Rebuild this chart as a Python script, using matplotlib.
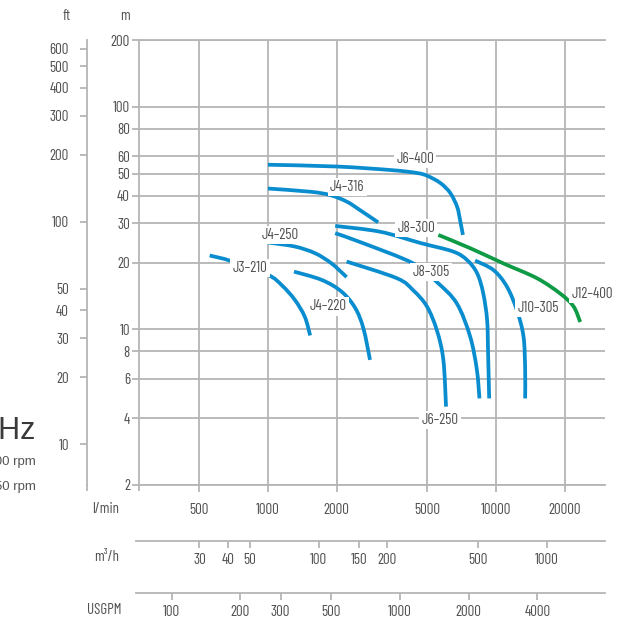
import numpy as np
import matplotlib
matplotlib.use("Agg")
import matplotlib.pyplot as plt
from matplotlib.ticker import FixedLocator, FixedFormatter, NullLocator
from matplotlib.path import Path
from matplotlib.patches import PathPatch

plt.rcParams['font.family'] = ['Barlow Condensed', 'DejaVu Sans']
plt.rcParams['font.weight'] = 'normal'

# Pump performance curves: flow (l/min) and head (m)
j6_400_q = [1000, 2000, 3500, 4500, 5000, 5700, 6300, 6750, 6950, 7150]
j6_400_h = [55, 54, 52, 50.5, 49, 45.5, 41, 35.5, 31, 26.6]

j4_316_q = [1000, 1530, 1870, 2220, 2530, 3040]
j4_316_h = [43, 41.6, 40.2, 37.5, 34.4, 30.3]

j8_300_q = [1970, 3100, 4640, 6480, 7460, 8250, 8770, 9130, 9220, 9320]
j8_300_h = [29.2, 27.5, 24.5, 22.4, 20.5, 17.9, 14.6, 11.0, 7.8, 4.9]

j8_305_q = [1970, 2620, 4340, 5510, 6720, 7690, 8230, 8450]
j8_305_h = [27.1, 24.4, 19.8, 16.3, 13.1, 9.3, 6.6, 4.9]

j4_250_q = [1000, 1310, 1610, 1900, 2210]
j4_250_h = [24.6, 23.6, 22.0, 19.8, 17.2]

j3_210_q = [555, 690, 1000, 1150, 1310, 1450, 1530]
j3_210_h = [21.5, 20.3, 17.6, 15.8, 13.6, 11.4, 9.4]

j4_220_q = [1300, 1720, 2100, 2410, 2620, 2800]
j4_220_h = [18.2, 16.7, 14.8, 12.5, 10.1, 7.3]

j6_250_q = [2210, 3670, 4330, 4970, 5500, 5870, 6030]
j6_250_h = [20.2, 17.0, 15.0, 12.7, 9.9, 7.3, 4.5]

j10_305_q = [8090, 9730, 11140, 12330, 13180, 13400, 13400]
j10_305_h = [20.4, 18.5, 15.6, 12.2, 9.3, 6.6, 4.9]

j12_400_q = [5580, 7690, 10770, 15090, 19090, 21830, 23360]
j12_400_h = [26.6, 23.2, 19.8, 17.0, 14.5, 12.7, 10.8]

# Axis ticks
head_m_ticks = [2, 4, 6, 8, 10, 20, 30, 40, 50, 60, 80, 100, 200]
head_ft_ticks = [10, 20, 30, 40, 50, 100, 200, 300, 400, 500, 600]
flow_lmin_ticks = [500, 1000, 2000, 5000, 10000, 20000]
flow_m3h_ticks = [30, 40, 50, 100, 150, 200, 500, 1000]
flow_gpm_ticks = [100, 200, 300, 500, 1000, 2000, 4000]

FT_PER_M = 1 / 0.3048
LMIN_PER_M3H = 1000 / 60
LMIN_PER_GPM = 3.78541

BLUE = '#0a8dcf'
GREEN = '#0f9a45'
GRID = '#b5b5b5'
TXT = '#505050'
GLW = 1.3
FS = 10.8

W, H = 644, 633
fig = plt.figure(figsize=(W / 100, H / 100), dpi=100)


def fx(px):
    return px / W


def fy(py):
    return 1 - py / H


def smooth_curve(q, h):
    """Cubic Bezier path through the points, built in log-log space."""
    pts = np.column_stack([np.log10(q), np.log10(h)])
    n = len(pts)
    verts = [pts[0]]
    codes = [Path.MOVETO]
    for i in range(n - 1):
        p0 = pts[i - 1] if i > 0 else pts[i]
        p1, p2 = pts[i], pts[i + 1]
        p3 = pts[i + 2] if i + 2 < n else pts[i + 1]
        verts += [p1 + (p2 - p0) / 6, p2 - (p3 - p1) / 6, p2]
        codes += [Path.CURVE4] * 3
    return Path(10 ** np.array(verts), codes)


XMIN, XMAX = 272, 30000
YMIN, YMAX = 2, 200
left, right, top, bottom = 139, 605, 40, 485

ax = fig.add_axes([fx(left), fy(bottom), (right - left) / W, (bottom - top) / H])
ax.set_xscale('log')
ax.set_yscale('log')
ax.set_xlim(XMIN, XMAX)
ax.set_ylim(YMIN, YMAX)

ax.yaxis.set_major_locator(FixedLocator(head_m_ticks))
ax.yaxis.set_major_formatter(FixedFormatter([str(v) for v in head_m_ticks]))
ax.yaxis.set_minor_locator(NullLocator())
ax.xaxis.set_major_locator(FixedLocator(flow_lmin_ticks))
ax.xaxis.set_major_formatter(FixedFormatter([str(v) for v in flow_lmin_ticks]))
ax.xaxis.set_minor_locator(NullLocator())

ax.grid(True, which='major', color=GRID, lw=GLW, zorder=1)
ax.set_axisbelow(True)
ax.tick_params(axis='y', direction='out', length=5, width=GLW, color=GRID,
               labelsize=FS, labelcolor=TXT, pad=1.5)
ax.tick_params(axis='x', direction='out', length=5, width=GLW, color=GRID,
               labelsize=FS, labelcolor=TXT, pad=8)
ax.spines['right'].set_visible(False)
for s in ['left', 'top', 'bottom']:
    ax.spines[s].set_color(GRID)
    ax.spines[s].set_linewidth(GLW)
ax.plot([0, 0], [0, -5 / (bottom - top)], transform=ax.transAxes,
        color=GRID, lw=GLW, clip_on=False)

curves = [
    (j6_400_q, j6_400_h, BLUE),
    (j4_316_q, j4_316_h, BLUE),
    (j8_300_q, j8_300_h, BLUE),
    (j8_305_q, j8_305_h, BLUE),
    (j4_250_q, j4_250_h, BLUE),
    (j3_210_q, j3_210_h, BLUE),
    (j4_220_q, j4_220_h, BLUE),
    (j6_250_q, j6_250_h, BLUE),
    (j10_305_q, j10_305_h, BLUE),
    (j12_400_q, j12_400_h, GREEN),
]
for q, h, c in curves:
    ax.add_patch(PathPatch(smooth_curve(q, h), fill=False, edgecolor=c, lw=2.7,
                           capstyle='butt', zorder=3))

# Curve labels: (text, flow, head)
labels = [
    ('J6–400', 4410, 58.4),
    ('J4–316', 2220, 43.6),
    ('J8–300', 4460, 28.6),
    ('J4–250', 1130, 26.6),
    ('J3–210', 834, 18.9),
    ('J4–220', 1830, 12.7),
    ('J8–305', 5190, 18.1),
    ('J10–305', 15290, 12.5),
    ('J12–400', 26370, 14.4),
    ('J6–250', 5680, 3.92),
]
for t, q, h in labels:
    ax.text(q, h, t, ha='center', va='center', fontsize=FS, color=TXT, zorder=5,
            bbox=dict(boxstyle='square,pad=0.15', fc='white', ec='none'))

# Secondary head scale in feet
axf = fig.add_axes([fx(87), fy(bottom), 1e-4, (bottom - top) / H])
axf.set_yscale('log')
axf.set_ylim(YMIN * FT_PER_M, YMAX * FT_PER_M)
axf.yaxis.set_major_locator(FixedLocator(head_ft_ticks))
axf.yaxis.set_major_formatter(FixedFormatter([str(v) for v in head_ft_ticks]))
axf.yaxis.set_minor_locator(NullLocator())
axf.set_xticks([])
axf.patch.set_visible(False)
for s in ['right', 'top', 'bottom']:
    axf.spines[s].set_visible(False)
axf.spines['left'].set_color(GRID)
axf.spines['left'].set_linewidth(GLW)
axf.tick_params(axis='y', direction='out', length=5, width=GLW, color=GRID,
                labelsize=FS, labelcolor=TXT, pad=8)
axf.plot([0, 0], [0, -5 / (bottom - top)], transform=axf.transAxes,
         color=GRID, lw=GLW, clip_on=False)


def flow_scale(ypx, ticks, factor):
    a = fig.add_axes([fx(136), fy(ypx), (right - 136) / W, 1e-4])
    a.set_xscale('log')
    a.set_xlim(10 ** (3 - (268 - 136) / 228), XMAX)
    a.xaxis.set_major_locator(FixedLocator([v * factor for v in ticks]))
    a.xaxis.set_major_formatter(FixedFormatter([str(v) for v in ticks]))
    a.xaxis.set_minor_locator(NullLocator())
    a.set_yticks([])
    a.patch.set_visible(False)
    for s in ['left', 'right', 'top']:
        a.spines[s].set_visible(False)
    a.spines['bottom'].set_color(GRID)
    a.spines['bottom'].set_linewidth(GLW)
    a.tick_params(axis='x', direction='out', length=5, width=GLW, color=GRID,
                  labelsize=FS, labelcolor=TXT, pad=4)
    return a


flow_scale(541, flow_m3h_ticks, LMIN_PER_M3H)
flow_scale(593, flow_gpm_ticks, LMIN_PER_GPM)

# Scale names
fig.text(fx(67), fy(16), 'ft', ha='center', va='center', fontsize=FS, color=TXT)
fig.text(fx(125), fy(16), 'm', ha='center', va='center', fontsize=FS, color=TXT)
fig.text(fx(119), fy(509), 'l/min', ha='right', va='center', fontsize=FS, color=TXT)
fig.text(fx(119), fy(557), 'm³/h', ha='right', va='center', fontsize=FS, color=TXT)
fig.text(fx(121), fy(610), 'USGPM', ha='right', va='center', fontsize=FS, color=TXT)

# Speed legend
fig.text(fx(36), fy(431), '60Hz', ha='right', va='center', fontsize=22,
         color='#3a3a3a', family='Liberation Sans', weight='normal')
fig.text(fx(36), fy(462), '3500 rpm', ha='right', va='center', fontsize=9.5,
         color='#555555', family='Liberation Sans', weight='normal')
fig.text(fx(36), fy(487), '1750 rpm', ha='right', va='center', fontsize=9.5,
         color='#555555', family='Liberation Sans', weight='normal')

fig.savefig('out.png', dpi=100, facecolor='white')
